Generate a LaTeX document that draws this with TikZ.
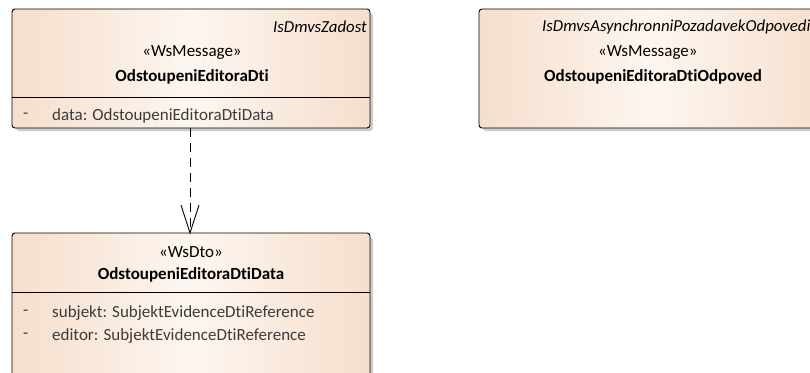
\documentclass[tikz,border=0pt]{standalone}
\usepackage{fontspec}
\setmainfont{Carlito}[Ligatures={NoCommon,NoRequired,NoContextual}]
\definecolor{peach}{RGB}{246,222,204}
\definecolor{peachlight}{RGB}{253,246,240}
\definecolor{shadowgray}{RGB}{205,205,205}
\definecolor{txt}{RGB}{60,60,60}
\begin{document}
\begin{tikzpicture}[x=1pt,y=-1pt,
  umlbox/.style={draw=black, line width=0.9pt, rounded corners=3pt,
     left color=peach, right color=peach, middle color=peachlight, shading angle=90, inner sep=0pt},
  txtn/.style={font=\fontsize{17}{19}\selectfont, inner sep=0pt, text=black},
  attr/.style={font=\fontsize{17}{19}\selectfont, inner sep=0pt, text=txt, anchor=west},
  dep/.style={dashed, dash pattern=on 9pt off 6pt, line width=0.9pt}
]
\useasboundingbox (0,0) rectangle (810,372);
\fill[white] (0,0) rectangle (810,372);
% shadows
\fill[shadowgray, rounded corners=3pt] (16,13) rectangle (373,131);
\fill[shadowgray, rounded corners=3pt] (483,13) rectangle (830,131);
\fill[shadowgray, rounded corners=3pt] (16,237) rectangle (373,400);
% box 1
\node[umlbox, minimum width=358pt, minimum height=119pt] (b1) at (191,68.5) {};
\draw[line width=0.9pt] (12,97) -- (370,97);
\node[txtn, anchor=east, font=\fontsize{16.8}{19}\itshape] (b1s) at (367,27) {IsDmvsZadost};
\node[txtn] (b1st) at (192,53) {«WsMessage»};
\node[txtn, font=\fontsize{17}{19}\bfseries] (b1n) at (192,77) {OdstoupeniEditoraDti};
\node[attr] (b1d) at (23,116) {-};
\node[attr] (b1a) at (52,116) {data: OdstoupeniEditoraDtiData};
% box 2
\node[umlbox, minimum width=351pt, minimum height=119pt] (b2) at (654.5,68.5) {};
\node[txtn, anchor=west, font=\fontsize{16.8}{19}\itshape] (b2s) at (542,27) {IsDmvsAsynchronniPozadavekOdpovedi};
\node[txtn, anchor=west] (b2st) at (598,53) {«WsMessage»};
\node[txtn, font=\fontsize{17}{19}\bfseries, anchor=west] (b2n) at (544,77) {OdstoupeniEditoraDtiOdpoved};
% box 3
\node[umlbox, minimum width=358pt, minimum height=170pt] (b3) at (191,318) {};
\draw[line width=0.9pt] (12,292) -- (370,292);
\node[txtn] (b3st) at (191,252) {«WsDto»};
\node[txtn, font=\fontsize{17}{19}\bfseries] (b3n) at (191,275) {OdstoupeniEditoraDtiData};
\node[attr] (b3d1) at (23,313) {-};
\node[attr] (b3a1) at (52,313) {subjekt: SubjektEvidenceDtiReference};
\node[attr] (b3d2) at (23,336) {-};
\node[attr] (b3a2) at (52,336) {editor: SubjektEvidenceDtiReference};
% dependency
\coordinate (p1) at (190,128);
\coordinate (p2) at (190,233);
\draw[dep] (p1) -- (p2);
\draw[line width=0.9pt] (181,205) -- (p2) -- (199,205);
\end{tikzpicture}
\end{document}
